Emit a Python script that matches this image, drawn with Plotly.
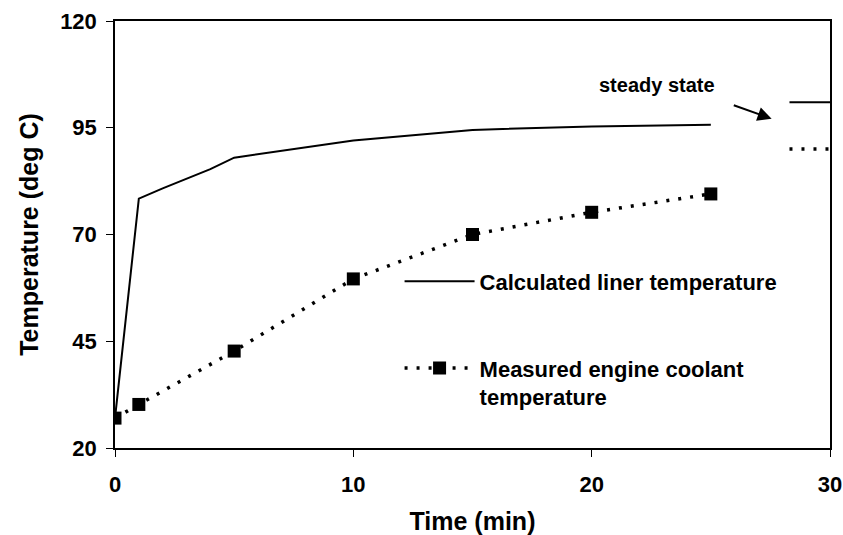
import plotly.graph_objects as go

# ---- data ----
liner_time = [0, 1, 2, 3, 4, 5, 10, 15, 20, 25]
liner_temp = [27, 78.4, 80.8, 83.1, 85.3, 88.0, 92.0, 94.5, 95.3, 95.7]

coolant_time = [0, 1, 5, 10, 15, 20, 25]
coolant_temp = [27.0, 30.2, 42.7, 59.6, 70.0, 75.2, 79.5]

steady_time = [28.3, 30]
steady_liner = [101, 101]
steady_coolant = [90, 90]

x_ticks = [0, 10, 20, 30]
y_ticks = [20, 45, 70, 95, 120]

FONT = "Liberation Sans, Arial, sans-serif"

fig = go.Figure()
fig.add_trace(go.Scatter(
    x=liner_time, y=liner_temp, mode="lines",
    name="Calculated liner temperature",
    line=dict(color="black", width=2), legendgroup="a"))
fig.add_trace(go.Scatter(
    x=coolant_time, y=coolant_temp, mode="lines+markers",
    name="Measured engine coolant<br>temperature",
    line=dict(color="black", width=3.5, dash="3px,9px"),
    marker=dict(symbol="square", size=13, color="black"), legendgroup="b"))
fig.add_trace(go.Scatter(
    x=steady_time, y=steady_liner, mode="lines", showlegend=False,
    line=dict(color="black", width=2)))
fig.add_trace(go.Scatter(
    x=steady_time, y=steady_coolant, mode="lines", showlegend=False,
    line=dict(color="black", width=3.5, dash="3px,9px")))

fig.add_annotation(x=22.75, y=105, text="steady state", showarrow=False,
                   font=dict(family=FONT, size=20, color="black", weight="bold"))
fig.add_annotation(x=27.55, y=97.1, ax=25.9, ay=100.4, axref="x", ayref="y",
                   text="", showarrow=True, arrowhead=2, arrowsize=1.4,
                   arrowwidth=2, arrowcolor="black")

axis_common = dict(showline=True, linecolor="black", linewidth=1.5,
                   showgrid=False, zeroline=False, mirror=True, automargin=False,
                   ticks="outside", ticklen=7, tickwidth=1.2, tickcolor="black",
                   tickfont=dict(family=FONT, size=22, color="black", weight="bold"))

fig.update_layout(
    width=843, height=535,
    margin=dict(l=115, r=13, t=21, b=87),
    paper_bgcolor="white", plot_bgcolor="white",
    font=dict(family=FONT, color="black"),
    xaxis=dict(range=[0, 30], tickvals=x_ticks, ticklabelstandoff=9,
               title=dict(text="Time (min)", font=dict(size=25, weight="bold"), standoff=17),
               **axis_common),
    yaxis=dict(range=[20, 120], tickvals=y_ticks, ticklabelstandoff=5,
               title=dict(text="Temperature (deg C)", font=dict(size=25, weight="bold"), standoff=14),
               **axis_common),
    xaxis2=dict(range=[0, 30], tickvals=x_ticks, overlaying="x", anchor="y",
                showticklabels=False, ticks="inside", ticklen=7, tickwidth=1.2,
                tickcolor="black", showgrid=False, zeroline=False, showline=False),
    yaxis2=dict(range=[20, 120], tickvals=y_ticks, overlaying="y", anchor="x",
                showticklabels=False, ticks="inside", ticklen=7, tickwidth=1.2,
                tickcolor="black", showgrid=False, zeroline=False, showline=False),
    legend=dict(x=0.398, y=0.439, xanchor="left", yanchor="top",
                bgcolor="rgba(0,0,0,0)", itemwidth=70, valign="top",
                tracegroupgap=55,
                font=dict(family=FONT, size=22, color="black", weight="bold")),
    showlegend=True,
)
fig.write_html("out.html")
